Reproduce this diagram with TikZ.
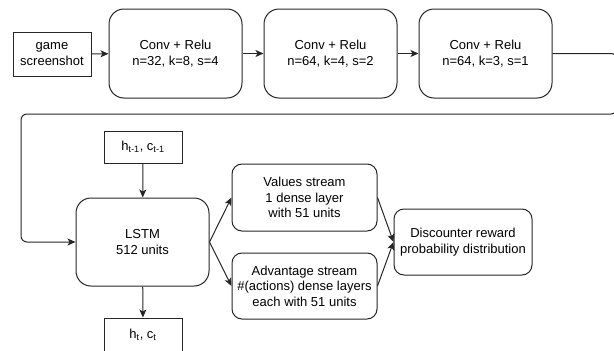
\documentclass[tikz,border=0pt]{standalone}
\usepackage{fontspec}
\setmainfont{Liberation Sans}
\usetikzlibrary{arrows.meta}
\begin{document}
\begin{tikzpicture}[x=1pt,y=-1pt,
  every node/.style={font=\fontsize{13}{15.5}\selectfont, align=center, inner sep=0pt, text=black},
  plainbox/.style={draw=black!85, line width=1pt},
  bigbox/.style={draw=black!85, line width=1pt, rounded corners=15pt, minimum width=133pt, minimum height=89pt},
  smallbox/.style={draw=black!85, line width=1pt, rounded corners=10pt, minimum height=66pt},
  link/.style={draw=black!85, line width=1pt, -{Stealth[length=8pt,width=7pt,inset=2pt]}}
]
\useasboundingbox (0,0) rectangle (614,351);
\clip (0,0) rectangle (614,351);

% convolutional front end
\node[plainbox, minimum width=78pt, minimum height=44pt] (game) at (52,54) {game\\screenshot};
\node[bigbox] (conv1) at (175.5,53.5) {Conv + Relu\\n=32, k=8, s=4};
\node[bigbox] (conv2) at (330.5,53.5) {Conv + Relu\\n=64, k=4, s=2};
\node[bigbox] (conv3) at (485.5,53.5) {Conv + Relu\\n=64, k=3, s=1};

% recurrent core
\node[plainbox, minimum width=78pt, minimum height=32pt] (hprev) at (143,147) {h\textsubscript{t-1}, c\textsubscript{t-1}};
\node[bigbox, minimum height=88pt] (lstm) at (142.5,242) {LSTM\\512 units};
\node[plainbox, minimum width=78pt, minimum height=34pt] (hnext) at (143,335) {h\textsubscript{t}, c\textsubscript{t}};

% dueling heads
\node[smallbox, minimum width=145pt, minimum height=67pt] (values) at (304.5,197.5) {Values stream\\1 dense layer\\with 51 units};
\node[smallbox, minimum width=145pt] (adv) at (304.5,286) {Advantage stream\\\#(actions) dense layers\\each with 51 units};
\node[smallbox, minimum width=138pt] (dist) at (463,242) {Discounter reward\\probability distribution};

% wrap-around route from the last conv layer into the LSTM
\coordinate (r1) at (617,53.5);
\coordinate (r2) at (617,114);
\coordinate (r3) at (21,114);
\coordinate (r4) at (21,242);

\draw[link] (game) -- (conv1);
\draw[link] (conv1) -- (conv2);
\draw[link] (conv2) -- (conv3);
\draw[link, rounded corners=6pt] (conv3.east) -- (r1) -- (r2) -- (r3) -- (r4) -- (lstm.west);
\draw[link] (hprev) -- (lstm);
\draw[link] (lstm) -- (hnext);
\draw[link] (lstm.east) -- (values.west);
\draw[link] (lstm.east) -- (adv.west);
\draw[link] (values.east) -- (dist.west);
\draw[link] (adv.east) -- (dist.west);
\end{tikzpicture}
\end{document}
